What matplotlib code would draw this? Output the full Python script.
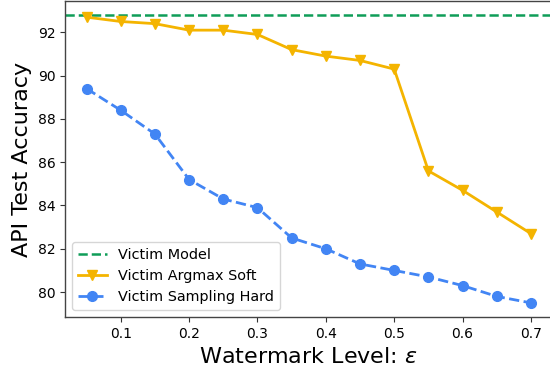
import matplotlib
matplotlib.use("Agg")
import matplotlib.pyplot as plt

eps = [0.05, 0.1, 0.15, 0.2, 0.25, 0.3, 0.35, 0.4, 0.45, 0.5, 0.55, 0.6, 0.65, 0.7]
victim_model = 92.8
argmax_soft = [92.7, 92.5, 92.4, 92.1, 92.1, 91.9, 91.2, 90.9, 90.7, 90.3, 85.6, 84.7, 83.7, 82.7]
sampling_hard = [89.4, 88.4, 87.3, 85.2, 84.3, 83.9, 82.5, 82.0, 81.3, 81.0, 80.7, 80.3, 79.8, 79.5]
xticks = [0.1, 0.2, 0.3, 0.4, 0.5, 0.6, 0.7]
yticks = [80, 82, 84, 86, 88, 90, 92]

fig = plt.figure(figsize=(5.5, 3.74), dpi=100)
ax = fig.add_axes([65/550, (374-317.3)/374, 487.5/550, (317.3-0.6)/374])

ax.axhline(victim_model, color='#0f9d58', linestyle='--', linewidth=1.8, label='Victim Model')
ax.plot(eps, argmax_soft, color='#f4b400', marker='v', markersize=7, linewidth=2, label='Victim Argmax Soft')
ax.plot(eps, sampling_hard, color='#4285f4', marker='o', markersize=7, linewidth=2, linestyle='--', label='Victim Sampling Hard')

ax.set_xlim(0.0185, 0.7315)
ax.set_ylim(78.835, 93.465)
ax.set_xticks(xticks)
ax.set_xticklabels([str(t) for t in xticks])
ax.set_yticks(yticks)
ax.tick_params(labelsize=10, color='#333333')
for s in ax.spines.values():
    s.set_color('#444444')
    s.set_linewidth(1.0)

ax.set_xlabel('Watermark Level: $\\epsilon$', fontsize=16)
ax.set_ylabel('API Test Accuracy', fontsize=16)
ax.legend(loc='lower left', fontsize=10.4)

fig.savefig('out.png', dpi=100)
